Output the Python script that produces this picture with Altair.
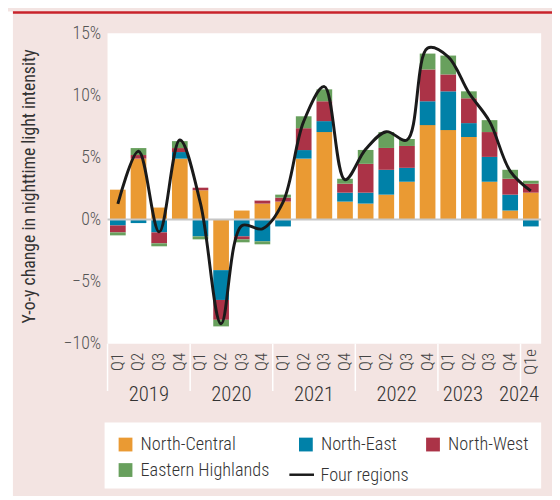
import altair as alt
import pandas as pd

FONT = "Liberation Sans Narrow, Arial Narrow, Roboto Condensed, Liberation Sans, sans-serif"

quarters = ["Q1", "Q2", "Q3", "Q4"] * 5 + ["Q1e"]
years = ["2019"] * 4 + ["2020"] * 4 + ["2021"] * 4 + ["2022"] * 4 + ["2023"] * 4 + ["2024"]

north_central = [2.4, 4.9, 0.96, 4.9, 2.35, -4.08, 0.72, 1.28, 1.44, 4.9, 7.04,
                 1.44, 1.28, 2.0, 3.04, 7.6, 7.2, 6.64, 3.04, 0.72, 2.16]
north_east = [-0.48, -0.29, -1.04, 0.53, -1.36, -2.4, -1.36, -1.76, -0.56, 0.69, 0.88,
              0.72, 0.88, 2.0, 1.12, 1.92, 3.12, 1.12, 2.0, 1.28, -0.56]
north_west = [-0.56, 0.29, -0.88, 0.32, 0.21, -1.6, -0.24, 0.24, 0.32, 1.76, 1.6,
              0.72, 2.32, 1.76, 1.76, 2.56, 1.36, 2.0, 2.0, 1.28, 0.72]
eastern_highlands = [-0.24, 0.56, -0.24, 0.56, -0.24, -0.53, -0.24, -0.24, 0.24, 0.96, 0.96,
                     0.4, 1.12, 1.28, 0.56, 1.28, 1.52, 0.56, 0.96, 0.72, 0.24]
four_regions = [1.25, 5.5, -1.0, 6.4, 1.3, -8.4, -0.5, -0.75, 1.4, 7.9, 10.7,
                3.2, 5.65, 7.07, 6.4, 13.8, 13.1, 10.2, 7.9, 3.9, 2.3]

regions = ["North-Central", "North-East", "North-West", "Eastern Highlands"]
colors = ["#EA9A33", "#0081A8", "#AB3347", "#68A05D"]
line_name = "Four regions"

labels = [f"{y} {q}" for y, q in zip(years, quarters)]

rows = []
for i, lab in enumerate(labels):
    for k, (reg, vals) in enumerate(zip(regions, [north_central, north_east, north_west, eastern_highlands])):
        rows.append({"label": lab, "region": reg, "order": k, "value": vals[i]})
bars_df = pd.DataFrame(rows)
line_df = pd.DataFrame({"label": labels, "value": four_regions, "series": [line_name] * len(labels)})
sep_df = pd.DataFrame({"label": [l for l, q in zip(labels, quarters) if q.startswith("Q1")]})
year_names = ["2019", "2020", "2021", "2022", "2023", "2024"]
year_anchor = ["2019 Q2", "2020 Q2", "2021 Q2", "2022 Q2", "2023 Q2", "2024 Q1e"]
year_df = pd.DataFrame({"label": year_anchor, "year": year_names})

xscale = alt.Scale(domain=labels, paddingInner=0.24, paddingOuter=0.12)
x = alt.X("label:N", scale=xscale, sort=labels,
          axis=alt.Axis(title=None, labelExpr="substring(datum.label, 5)", labelAngle=270,
                        labelAlign="center", labelBaseline="middle", labelPadding=18,
                        ticks=False, domain=False, grid=False, labelFontSize=17,
                        labelFontWeight=300,
                        labelColor="#444", labelFont=FONT))
yscale = alt.Scale(domain=[-10, 15], nice=False)
yaxis = alt.Axis(title="Y-o-y change in nighttime light intensity", values=[-10, -5, 0, 5, 10, 15],
                 labelExpr="datum.value < 0 ? '\u2212' + abs(datum.value) + '%' : datum.value + '%'",
                 ticks=False, domain=False, grid=False, labelPadding=7, labelFontSize=18,
                 labelFontWeight=300,
                 labelColor="#555", labelFont=FONT, titleFont=FONT, titleFontSize=18,
                 titleFontWeight="normal", titleColor="#333", titleX=-79, titleY=155,
                 titleAngle=270, titleAlign="center", titleBaseline="middle")

white_strip = alt.Chart(pd.DataFrame({"a": [0]})).mark_rect(color="white").encode(
    x=alt.value(-101), x2=alt.value(-96), y=alt.value(-22), y2=alt.value(470))
top_rule = alt.Chart(pd.DataFrame({"a": [0]})).mark_rule(color="#C8232B", strokeWidth=2.5).encode(
    x=alt.value(-96), x2=alt.value(451), y=alt.value(-21))
legend_box = alt.Chart(pd.DataFrame({"a": [0]})).mark_rect(color="white").encode(
    x=alt.value(-3), x2=alt.value(440), y=alt.value(395), y2=alt.value(462))

bars = alt.Chart(bars_df).mark_bar().encode(
    x=x,
    y=alt.Y("value:Q", stack="zero", scale=yscale, axis=yaxis),
    color=alt.Color("region:N", scale=alt.Scale(domain=regions, range=colors),
                    legend=alt.Legend(title=None, orient="none", legendX=9, legendY=408,
                                      direction="horizontal", columns=3, symbolType="square",
                                      symbolSize=196, symbolStrokeWidth=0, labelFontSize=18.5,
                                      labelFontWeight=300,
                                      labelFont=FONT, labelColor="#333", labelOffset=6,
                                      columnPadding=27, rowPadding=7, padding=0, labelLimit=300)),
    order=alt.Order("order:Q"),
)

zero = alt.Chart(pd.DataFrame({"value": [0]})).mark_rule(color="#C6C6C6", strokeWidth=2).encode(
    y=alt.Y("value:Q", scale=yscale))

line = alt.Chart(line_df).mark_line(interpolate="catmull-rom", strokeWidth=3).encode(
    x=x,
    y=alt.Y("value:Q", scale=yscale),
    stroke=alt.Stroke("series:N", scale=alt.Scale(domain=[line_name], range=["#1A1A1A"]),
                      legend=alt.Legend(title=None, orient="none", legendX=183, legendY=434,
                                        symbolType="stroke", symbolSize=625, symbolStrokeWidth=2.5,
                                        labelFontSize=18.5, labelFont=FONT, labelColor="#333",
                                        labelFontWeight=300,
                                        labelOffset=5, padding=0, labelLimit=300)),
)

seps = alt.Chart(sep_df).mark_rule(color="white", strokeWidth=1.5, xOffset=-2.5).encode(
    x=alt.X("label:N", scale=xscale, bandPosition=0), y=alt.value(315), y2=alt.value(363))

ytext_style = dict(font=FONT, fontSize=21, fontWeight=300, color="#333",
                   baseline="middle", align="center")
years_a = alt.Chart(year_df).transform_filter(
    alt.FieldOneOfPredicate(field="year", oneOf=["2019", "2020", "2021", "2022"])
).mark_text(dx=2.5, **ytext_style).encode(
    x=alt.X("label:N", scale=xscale, bandPosition=1), y=alt.value(367), text="year:N")
years_b = alt.Chart(year_df).transform_filter(alt.datum.year == "2023").mark_text(
    dx=-14, **ytext_style).encode(
    x=alt.X("label:N", scale=xscale, bandPosition=1), y=alt.value(367), text="year:N")
years_c = alt.Chart(year_df).transform_filter(alt.datum.year == "2024").mark_text(
    dx=-12, **ytext_style).encode(
    x=alt.X("label:N", scale=xscale, bandPosition=0.5), y=alt.value(367), text="year:N")

chart = alt.layer(
    white_strip, top_rule, legend_box, bars, zero, line, seps, years_a, years_b, years_c
).properties(
    width=440, height=315, background="#F3E4E2",
    padding={"left": 101, "top": 22, "right": 11, "bottom": 151},
    autosize=alt.AutoSizeParams(type="none"),
).configure_view(fill="white", stroke=None)

chart.save("out.html", embed_options={"renderer": "svg", "actions": False})
